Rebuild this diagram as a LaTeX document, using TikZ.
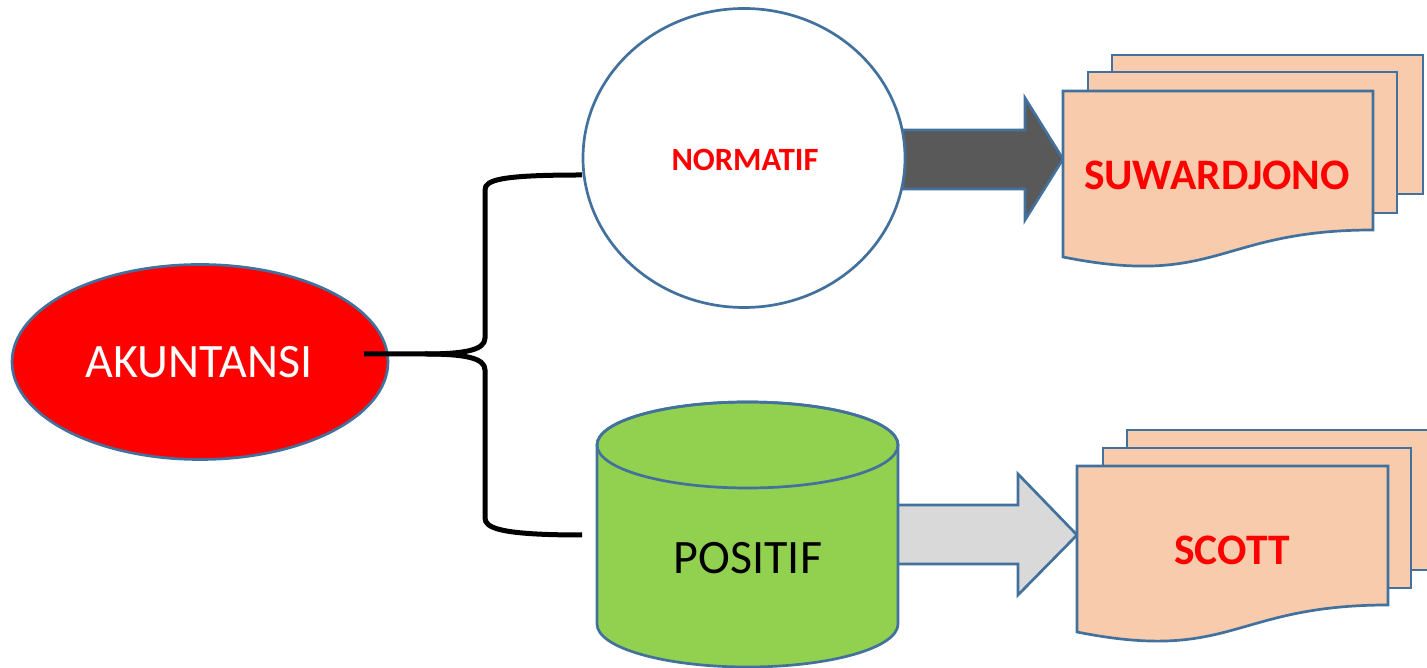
\documentclass[tikz,border=0pt]{standalone}
\usepackage{fontspec}
\setmainfont{Carlito}
\usetikzlibrary{shapes.geometric}
\definecolor{bordblue}{HTML}{41719C}
\definecolor{docfill}{HTML}{F8CBAD}
\definecolor{cylgreen}{HTML}{92D050}
\definecolor{darkarrow}{HTML}{595959}
\definecolor{lightarrow}{HTML}{D9D9D9}
\tikzset{
  shapeline/.style={draw=bordblue, line width=2.7pt, line join=miter},
  docshape/.style={shapeline, fill=docfill},
  bigtext/.style={font=\fontsize{48}{52}\selectfont, inner sep=0pt},
  doctext/.style={font=\fontsize{43.5}{47}\selectfont\bfseries, text=red, inner sep=0pt},
  bracelink/.style={draw=black, line width=5pt},
}
\begin{document}
\begin{tikzpicture}[x=1pt,y=1pt]
\useasboundingbox (0,0) rectangle (1427,668);

% block arrows
\path[shapeline, fill=darkarrow] (903,538) -- (1025,538) -- (1025,570) -- (1063,509) -- (1025,448) -- (1025,479) -- (903,479) -- cycle;
\path[shapeline, fill=lightarrow] (897,163) -- (1018,163) -- (1018,194) -- (1077,133) -- (1018,73) -- (1018,104) -- (897,104) -- cycle;

% AKUNTANSI
\node[ellipse, shapeline, fill=red, minimum width=376, minimum height=195, inner sep=0pt] (ak) at (200,306) {};
\node[bigtext, text=white] (aktext) at (199,306) {AKUNTANSI};

% NORMATIF
\node[ellipse, shapeline, fill=white, minimum width=322, minimum height=299, inner sep=0pt] (no) at (744,510) {};
\node[font=\fontsize{32.5}{35}\selectfont\bfseries, text=red, inner sep=0pt] (notext) at (745,508) {NORMATIF};

% POSITIF cylinder
\path[shapeline, fill=cylgreen] (597,223) -- (597,44) arc[start angle=180, end angle=360, x radius=150.5, y radius=43] -- (898,223) arc[start angle=0, end angle=180, x radius=150.5, y radius=43] -- cycle;
\path[shapeline] (747.5,223) ellipse[x radius=150.5, y radius=43];
\node[bigtext, text=black] (po) at (748,110) {POSITIF};

% SUWARDJONO multi-document
\path[docshape] (1112,474) rectangle (1423,613);
\path[docshape] (1088,455) rectangle (1397,596);
\path[docshape] (1063,577) -- (1373,577) -- (1373,438) .. controls (1218,438) and (1218,380) .. (1063,411) -- cycle;
\node[doctext] (su) at (1217,493) {SUWARDJONO};

% SCOTT multi-document
\path[docshape] (1127,98) rectangle (1440,238);
\path[docshape] (1103,80) rectangle (1411,220);
\path[docshape] (1077,202) -- (1388,202) -- (1388,63) .. controls (1232.5,63) and (1232.5,5) .. (1077,36) -- cycle;
\node[doctext] (sc) at (1232,118) {SCOTT};

% brace connector
\coordinate (bt) at (364,314);
\coordinate (bn) at (582,493);
\coordinate (bp) at (582,133);
\path[bracelink] (bt) -- (425,314) .. controls (465,314) and (485,318) .. (485,330) -- (485,478) .. controls (485,488) and (500,493) .. (bn);
\path[bracelink] (425,314) .. controls (465,314) and (485,310) .. (485,298) -- (485,150) .. controls (485,140) and (500,133) .. (bp);
\end{tikzpicture}
\end{document}
